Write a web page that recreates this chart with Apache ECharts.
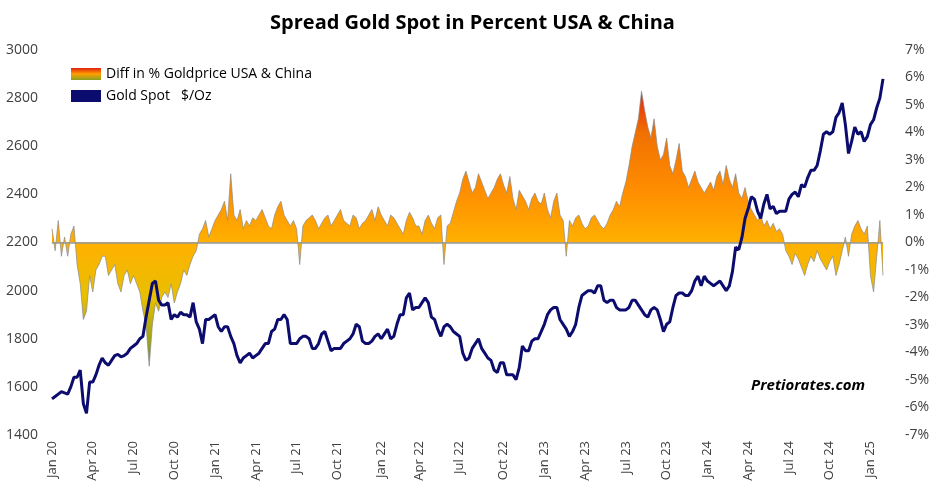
<!DOCTYPE html>
<html>
<head>
<meta charset="utf-8">
<script src="https://cdn.jsdelivr.net/npm/echarts@6/dist/echarts.min.js"></script>
<style>html,body{margin:0;padding:0;background:#fff}#main{width:945px;height:497px}</style>
</head>
<body>
<div id="main"></div>
<script>
// weekly values, first week Jan 2020
var startDate = '2020-01-03';
var goldSpot = [
    1550,1560,1570,1580,1575,1570,1600,1640,1640,1670,1530,1490,1620,
    1620,1650,1690,1720,1700,1690,1710,1730,1735,1725,1730,1740,1760,
    1770,1780,1800,1810,1890,1960,2030,2040,1960,1940,1940,1950,1880,
    1900,1890,1910,1900,1900,1890,1950,1870,1840,1780,1880,1880,1890,
    1900,1850,1830,1850,1850,1810,1780,1730,1700,1720,1730,1740,1720,
    1730,1740,1760,1780,1780,1830,1840,1880,1880,1900,1880,1780,1780,
    1780,1800,1810,1810,1800,1760,1760,1780,1820,1830,1790,1750,1760,
    1760,1760,1780,1790,1800,1820,1860,1850,1790,1780,1780,1790,1810,
    1820,1800,1820,1840,1800,1810,1860,1900,1900,1970,1990,1920,1930,
    1930,1950,1970,1950,1890,1880,1840,1810,1850,1860,1850,1830,1820,
    1810,1740,1710,1720,1760,1780,1800,1760,1740,1720,1710,1670,1660,
    1700,1700,1650,1650,1650,1630,1680,1770,1750,1750,1790,1800,1800,
    1830,1860,1900,1920,1930,1930,1880,1860,1840,1810,1830,1860,1930,
    1980,1990,2000,2000,1990,2020,2020,1960,1950,1960,1960,1930,1920,
    1920,1920,1930,1960,1960,1940,1920,1900,1890,1920,1930,1920,1880,
    1830,1860,1870,1930,1980,1990,1990,1980,1980,2000,2040,2060,2020,
    2060,2040,2030,2020,2030,2040,2020,2000,2020,2080,2180,2170,2220,
    2300,2340,2390,2380,2330,2300,2360,2400,2340,2350,2320,2330,2330,
    2330,2380,2400,2410,2390,2440,2430,2470,2500,2500,2520,2580,2650,
    2660,2650,2660,2720,2740,2780,2690,2570,2620,2680,2650,2660,2620,
    2640,2690,2710,2760,2800,2880
];
var spread = [
    0.5,-0.3,0.8,-0.5,0.2,-0.5,0.3,0.6,-0.8,-1.5,-2.8,-2.5,-1.2,
    -1.8,-1.0,-0.8,-0.5,-0.5,-1.2,-1.0,-0.8,-1.5,-1.8,-1.2,-1.0,-1.5,
    -1.2,-1.5,-1.8,-2.5,-3.0,-4.5,-3.0,-2.2,-2.5,-2.0,-1.8,-2.0,-1.5,
    -2.2,-1.8,-1.5,-1.0,-1.2,-0.8,-0.5,-0.3,0.3,0.5,0.8,0.2,0.5,
    0.8,1.0,1.2,1.5,0.8,2.5,1.0,0.8,1.2,0.5,0.8,0.6,0.9,
    0.8,1.0,1.2,0.9,0.6,0.5,1.0,1.3,1.5,1.0,0.8,0.6,0.8,
    0.5,-0.8,0.6,0.8,0.9,1.0,0.8,0.5,0.7,0.9,1.0,0.6,0.8,
    1.0,1.2,0.8,0.7,0.6,1.0,0.9,0.5,0.7,0.8,1.0,1.2,0.8,
    1.3,1.0,0.8,0.6,1.0,0.9,0.7,0.5,0.3,0.8,1.1,0.9,0.6,
    0.6,0.3,0.8,1.0,0.7,0.5,0.9,1.0,-0.8,0.6,0.7,1.1,1.5,
    1.8,2.3,2.6,2.2,1.8,2.0,2.5,2.2,1.9,1.6,1.8,2.0,2.3,
    2.5,2.1,1.8,2.4,1.6,1.2,1.9,1.7,1.5,1.2,1.6,1.8,1.5,
    1.4,1.8,1.2,0.9,1.5,1.8,1.0,0.8,-0.5,0.8,0.6,0.9,1.0,
    0.7,0.5,0.6,0.9,1.0,0.8,0.6,0.5,0.7,1.0,1.2,1.5,1.3,
    1.8,2.2,2.8,3.5,4.0,4.5,5.5,4.8,4.2,3.8,4.5,3.5,3.0,
    3.2,3.8,2.8,2.5,3.0,3.6,2.6,2.4,2.0,2.3,2.6,2.2,2.0,
    1.8,2.0,2.2,1.9,2.4,2.6,2.1,2.8,2.3,2.0,2.5,1.8,1.6,
    2.0,1.5,1.2,1.0,0.8,1.0,0.6,0.8,0.5,0.7,0.4,0.5,0.3,
    -0.3,-0.5,-0.8,-0.4,-0.6,-0.9,-1.2,-0.8,-0.5,-0.7,-0.3,-0.6,-0.8,
    -1.0,-0.7,-0.5,-1.2,-0.8,-0.3,0.2,-0.5,0.3,0.6,0.8,0.5,0.3,
    0.6,-1.2,-1.8,-0.5,0.8,-1.2
];
var monthNames = ['Jan','Feb','Mar','Apr','May','Jun','Jul','Aug','Sep','Oct','Nov','Dec'];

var dates = [];
var labels = [];
var d0 = new Date(startDate + 'T00:00:00Z');
var lastMonth = -1;
for (var i = 0; i < goldSpot.length; i++) {
    var d = new Date(d0.getTime() + i * 7 * 86400000);
    var m = d.getUTCMonth();
    var lab = '';
    if (m != lastMonth && m % 3 == 0) {
        lab = monthNames[m] + ' ' + String(d.getUTCFullYear()).slice(2);
    }
    lastMonth = m;
    dates.push(d.toISOString().slice(0, 10));
    labels.push(lab);
}

var myChart = echarts.init(document.getElementById('main'));
var gradLegend = new echarts.graphic.LinearGradient(0, 0, 0, 1, [
    {offset: 0, color: '#e02010'}, {offset: 0.5, color: '#ffa000'}, {offset: 1, color: '#8aa020'}
]);
var option = {
    animation: false,
    title: {
        text: 'Spread Gold Spot in Percent USA & China',
        left: 'center', top: 8,
        textStyle: {fontFamily: 'Open Sans', fontSize: 20, fontWeight: 'bold', color: '#000'}
    },
    legend: {
        orient: 'vertical', left: 66, top: 62, itemGap: 8,
        itemWidth: 30, itemHeight: 12,
        textStyle: {fontFamily: 'Open Sans', fontSize: 14, color: '#000'},
        data: [
            {name: 'Diff in % Goldprice USA & China', icon: 'rect', itemStyle: {color: gradLegend}},
            {name: 'Gold Spot   $/Oz', icon: 'rect', itemStyle: {color: '#0c0c6e'}}
        ]
    },
    grid: {left: 52, right: 62, top: 50, bottom: 62},
    visualMap: {
        type: 'continuous', show: false, seriesIndex: 0, dimension: 1,
        min: -4, max: 6,
        inRange: {color: ['#8a9a20', '#e8c000', '#ffb000', '#ff8c00', '#f07000', '#e01010']}
    },
    xAxis: {
        type: 'category', data: dates, boundaryGap: false,
        axisLine: {lineStyle: {color: '#bbb'}},
        axisTick: {show: false},
        axisLabel: {
            interval: function (idx) { return labels[idx] != ''; },
            formatter: function (v, idx) { return labels[idx]; },
            rotate: 90, color: '#404040', fontFamily: 'Open Sans', fontSize: 13, margin: 6
        }
    },
    yAxis: [
        {type: 'value', min: 1400, max: 3000, interval: 200,
         splitLine: {show: false}, axisLine: {show: false}, axisTick: {show: false},
         axisLabel: {formatter: function (v) { return String(v); },
                     color: '#404040', fontFamily: 'Open Sans', fontSize: 14, margin: 14}},
        {type: 'value', min: -7, max: 7, interval: 1,
         splitLine: {show: false}, axisLine: {show: false}, axisTick: {show: false},
         axisLabel: {formatter: '{value}%', color: '#404040', fontFamily: 'Open Sans', fontSize: 14, margin: 22}}
    ],
    graphic: [{
        type: 'text', right: 80, top: 378,
        style: {text: 'Pretiorates.com', font: 'italic bold 15px "Open Sans"', fill: '#000'}
    }],
    series: [
        {name: 'Diff in % Goldprice USA & China', type: 'line', yAxisIndex: 1, data: spread,
         symbol: 'none', lineStyle: {width: 0}, areaStyle: {opacity: 1},
         markLine: {silent: true, symbol: 'none', label: {show: false},
                    lineStyle: {color: '#999', type: 'solid', width: 1.5}, data: [{yAxis: 0}]}},
        {name: 'spreadEdge', type: 'line', yAxisIndex: 1, data: spread,
         symbol: 'none', lineStyle: {width: 0.7, color: '#8a8a8a'}},
        {name: 'Gold Spot   $/Oz', type: 'line', yAxisIndex: 0, data: goldSpot,
         symbol: 'none', z: 5, lineStyle: {width: 3, color: '#0c0c6e'}, itemStyle: {color: '#0c0c6e'}}
    ]
};
myChart.setOption(option);
</script>
</body>
</html>
